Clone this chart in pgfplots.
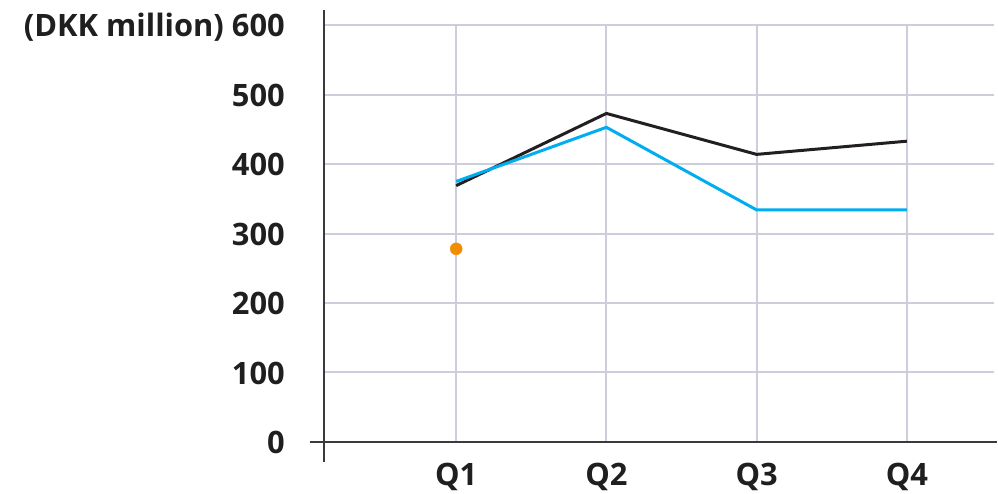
\documentclass[border=0pt]{standalone}
\usepackage{pgfplots}
\pgfplotsset{compat=1.18}
\usepackage{fontspec}
\setmainfont{Open Sans}
\definecolor{gridc}{HTML}{CDCDDC}
\definecolor{axisc}{HTML}{3A3A3A}
\definecolor{darkline}{HTML}{231F20}
\definecolor{blueline}{HTML}{00AEEF}
\definecolor{orangedot}{HTML}{F28C00}
\begin{document}
\begin{tikzpicture}[x=1bp,y=1bp]
\begin{axis}[
  x=150.4bp, y=0.695bp,
  xmin=0.12, xmax=4.58, ymin=0, ymax=600,
  clip=false,
  axis line style={draw=none},
  xtick={1,2,3,4},
  xticklabels={Q1,Q2,Q3,Q4},
  ytick={0,100,...,600},
  yticklabels={0,100,200,300,400,500,{(DKK million) 600}},
  major tick length=0pt,
  grid=major,
  major grid style={color=gridc, line width=2bp},
  tick label style={font=\fontsize{31}{36}\selectfont\bfseries, text=black!88},
  yticklabel style={anchor=base east, inner sep=0pt, xshift=-39bp, yshift=-11.7bp},
  xticklabel style={anchor=base, inner sep=0pt, yshift=-43.7bp},
]
% data series
\addplot[darkline, line width=3bp] coordinates {(1,369) (2,473) (3,414) (4,433)};
\addplot[blueline, line width=3bp] coordinates {(1,375) (2,453) (3,334) (4,334)};
\addplot[only marks, mark=*, mark size=6bp, color=orangedot] coordinates {(1,278)};
% axis lines
\draw[axisc, line width=2bp] (axis cs:0.025,0) -- (axis cs:4.60,0);
\draw[axisc, line width=2bp] (axis cs:0.12,-28.8) -- (axis cs:0.12,622);
% canvas extent
\path (axis cs:-2.0366,-74.4) rectangle (axis cs:4.6004,636.4);
\end{axis}
\end{tikzpicture}
\end{document}
